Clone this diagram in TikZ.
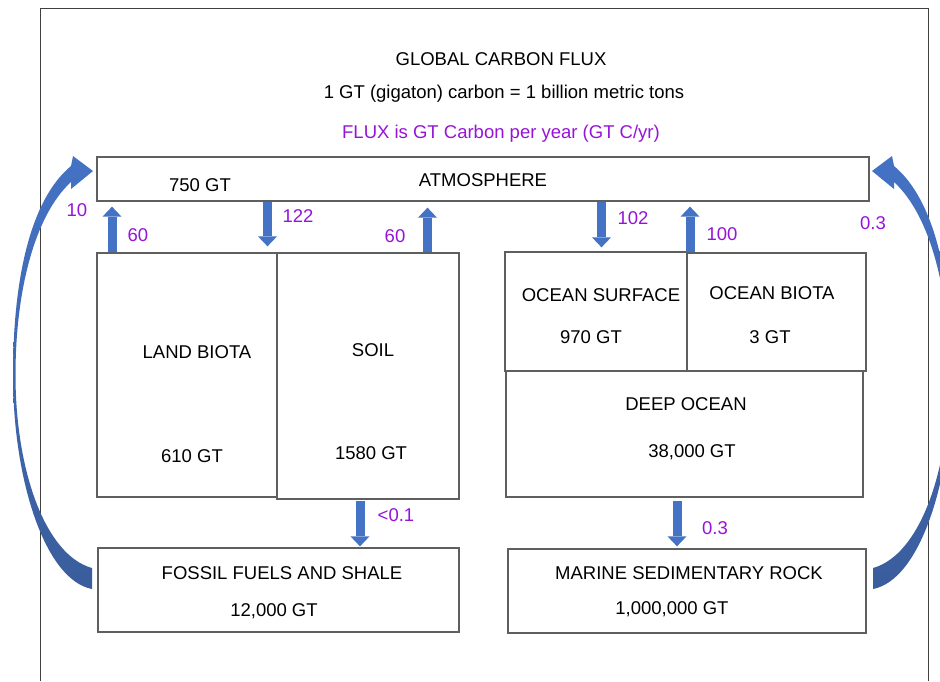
\documentclass[tikz,border=0pt]{standalone}
\usepackage{fontspec}
\setmainfont{Liberation Sans}
\usetikzlibrary{arrows.meta,calc}
\definecolor{fluxpurple}{RGB}{150,20,215}
\definecolor{arrowblue}{HTML}{4472C4}
\definecolor{arrowdark}{HTML}{3A5D9C}
\definecolor{boxgray}{HTML}{5F5F5F}
\definecolor{framegray}{HTML}{404040}
\tikzset{
  bendarrow/.pic={
    \shade[top color=arrowblue, bottom color=arrowdark]
      (92,589) .. controls (45,580) and (13,480) .. (13,375)
      .. controls (13,280) and (30,200) .. (71,166)
      -- (73,156) -- (93,171) -- (71,189) -- (71,182)
      .. controls (35,215) and (15.5,290) .. (15.5,375)
      .. controls (15.5,470) and (45,555) .. (92,568) -- cycle;
  }
}
\begin{document}
\begin{tikzpicture}[x=1pt,y=-1pt,
  every node/.style={font=\fontsize{18.5}{22}\selectfont, inner sep=0pt},
  box/.style={draw=boxgray, line width=1.3pt, fill=white},
  txt/.style={anchor=base, text=black},
  lbl/.style={anchor=base, text=fluxpurple},
  flux/.style={draw=arrowblue, line width=9pt,
    -{Triangle[length=10pt 0 0, width=19pt 0 0, line width=0pt]}}
]
\useasboundingbox (0,0) rectangle (940,681);
\fill[white] (0,0) rectangle (940,681);
% frame
\draw[framegray, line width=1pt] (40,681) -- (40,8) -- (928,8) -- (928,681);

% title
\node[txt] (title) at (501,65) {GLOBAL CARBON FLUX};
\node[txt] (unit) at (504,98) {1 GT (gigaton) carbon = 1 billion metric tons};
\node[lbl] (fluxdef) at (501,138.5) {FLUX is GT Carbon per year (GT C/yr)};

% boxes
\node[box, minimum width=772pt, minimum height=44pt] (atm) at (483,179) {};
\node[box, minimum width=180pt, minimum height=244pt] (land) at (187,375) {};
\node[box, minimum width=182pt, minimum height=246pt] (soil) at (368,376) {};
\node[box, minimum width=357pt, minimum height=126pt] (deep) at (684.5,434) {};
\node[box, minimum width=182pt, minimum height=119pt] (osurf) at (596,311.5) {};
\node[box, minimum width=179pt, minimum height=118pt] (obio) at (776.5,312) {};
\node[box, minimum width=361pt, minimum height=84pt] (fossil) at (278.5,590) {};
\node[box, minimum width=358pt, minimum height=84pt] (marine) at (687,591) {};

% box texts
\node[txt] (atmname) at (483,186.5) {ATMOSPHERE};
\node[txt] (atmval) at (200,191.5) {750 GT};
\node[txt] (landname) at (197,358.5) {LAND BIOTA};
\node[txt] (landval) at (192,462.5) {610 GT};
\node[txt] (soilname) at (373,356.5) {SOIL};
\node[txt] (soilval) at (371,459.5) {1580 GT};
\node[txt] (osurfname) at (601,301.5) {OCEAN SURFACE};
\node[txt] (osurfval) at (591,343.5) {970 GT};
\node[txt] (obioname) at (772,299.5) {OCEAN BIOTA};
\node[txt] (obioval) at (770,343.5) {3 GT};
\node[txt] (deepname) at (686,410.5) {DEEP OCEAN};
\node[txt] (deepval) at (692,457.5) {38,000 GT};
\node[txt] (fossilname) at (282,579.5) {FOSSIL FUELS AND SHALE};
\node[txt] (fossilval) at (274,616.5) {12,000 GT};
\node[txt] (marinename) at (689,579.5) {MARINE SEDIMENTARY ROCK};
\node[txt] (marineval) at (672,614.5) {1,000,000 GT};

% arrow columns
\coordinate (c1) at (112,0);
\coordinate (c2) at (267.5,0);
\coordinate (c3) at (427.5,0);
\coordinate (c4) at (601.5,0);
\coordinate (c5) at (690,0);
\coordinate (c6) at (360,0);
\coordinate (c7) at (677,0);

% straight flux arrows
\draw[flux] (c1 |- land.north) -- ($(c1 |- atm.south)+(0,5)$);
\draw[flux] (c2 |- atm.south) -- ($(c2 |- land.north)+(0,-6)$);
\draw[flux] (c3 |- soil.north) -- ($(c3 |- atm.south)+(0,6)$);
\draw[flux] (c4 |- atm.south) -- ($(c4 |- osurf.north)+(0,-4)$);
\draw[flux] (c5 |- obio.north) -- ($(c5 |- atm.south)+(0,5)$);
\draw[flux] ($(c6 |- soil.south)+(0,1)$) -- ($(c6 |- fossil.north)+(0,-1)$);
\draw[flux] ($(c7 |- deep.south)+(0,3)$) -- ($(c7 |- marine.north)+(0,-2)$);

% curved arrows
\pic at (0,0) {bendarrow};
\pic[xscale=-1] at (965,0) {bendarrow};

% flux labels
\node[lbl] (f10) at (77,216.5) {10};
\node[lbl] (f60a) at (138,241.5) {60};
\node[lbl] (f122) at (298,222.5) {122};
\node[lbl] (f60b) at (395,242.5) {60};
\node[lbl] (f102) at (633,224.5) {102};
\node[lbl] (f100) at (722,240.5) {100};
\node[lbl] (f03a) at (873,229.5) {0.3};
\node[lbl] (f01) at (396,521.5) {<0.1};
\node[lbl] (f03b) at (715,534.5) {0.3};
\end{tikzpicture}
\end{document}
